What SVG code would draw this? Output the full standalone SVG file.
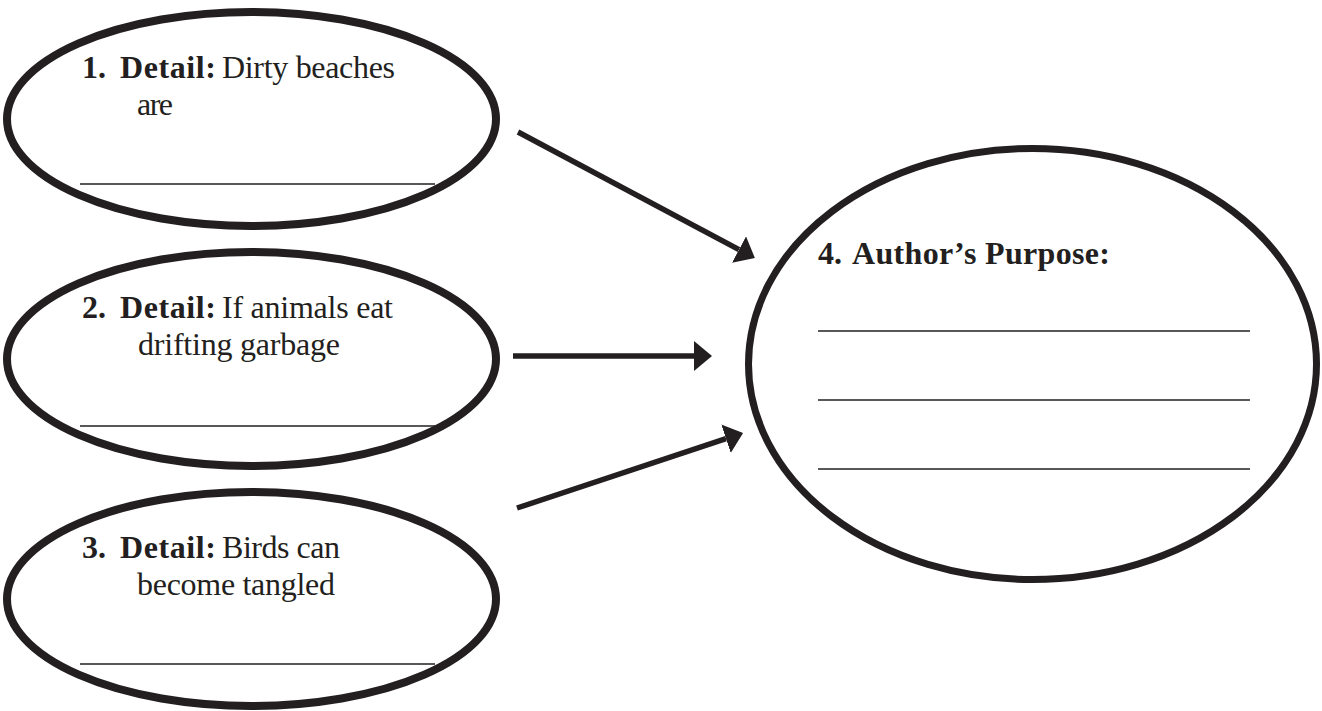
<svg xmlns="http://www.w3.org/2000/svg" width="1322" height="711" viewBox="0 0 1322 711">
<style>
.oval{fill:#fff;stroke:#231f20;stroke-width:8}
.big{fill:#fff;stroke:#231f20;stroke-width:7}
.rule{stroke:#231f20;stroke-width:1.5}
text{font-family:'Liberation Serif','Times New Roman',Times,serif;font-size:32px;fill:#231f20}
.b{font-weight:bold}
.conn line{stroke:#231f20;stroke-width:5.5}
</style>
<defs>
<marker id="ah" viewBox="0 0 18 30" markerWidth="18" markerHeight="30" markerUnits="userSpaceOnUse" refX="0" refY="15" orient="auto">
<path d="M0,0 L18,15 L0,30 Z" fill="#231f20"/>
</marker>
</defs>
<rect width="1322" height="711" fill="#fff"/>
<g id="node1">
<ellipse class="oval" cx="251.5" cy="119" rx="244.5" ry="107"/>
<line class="rule" x1="80" y1="184" x2="435" y2="184"/>
<text y="78"><tspan x="82" class="b">1.</tspan><tspan x="120" class="b" textLength="96">Detail:</tspan><tspan x="222" textLength="173">Dirty beaches</tspan></text>
<text x="137" y="115" textLength="36">are</text>
</g>
<g id="node2">
<ellipse class="oval" cx="251.5" cy="359" rx="244.5" ry="107"/>
<line class="rule" x1="80" y1="426" x2="435" y2="426"/>
<text y="318"><tspan x="82" class="b">2.</tspan><tspan x="120" class="b" textLength="96">Detail:</tspan><tspan x="222" textLength="171">If animals eat</tspan></text>
<text x="138" y="355" textLength="202">drifting garbage</text>
</g>
<g id="node3">
<ellipse class="oval" cx="251.5" cy="599" rx="244.5" ry="107"/>
<line class="rule" x1="80" y1="664" x2="435" y2="664"/>
<text y="558"><tspan x="82" class="b">3.</tspan><tspan x="120" class="b" textLength="96">Detail:</tspan><tspan x="222" textLength="118">Birds can</tspan></text>
<text x="137" y="595" textLength="198">become tangled</text>
</g>
<g id="node4">
<ellipse class="big" cx="1032.5" cy="364" rx="284" ry="215.5"/>
<line class="rule" x1="818" y1="331" x2="1250" y2="331"/>
<line class="rule" x1="818" y1="400" x2="1250" y2="400"/>
<line class="rule" x1="818" y1="469" x2="1250" y2="469"/>
<text class="b" y="264"><tspan x="818">4.</tspan><tspan x="852" textLength="258">Author’s Purpose:</tspan></text>
</g>
<g id="connectors" class="conn">
<line x1="518" y1="132" x2="739" y2="249.6" marker-end="url(#ah)"/>
<line x1="513" y1="356" x2="694" y2="356" marker-end="url(#ah)"/>
<line x1="517" y1="508" x2="726" y2="438.7" marker-end="url(#ah)"/>
</g>
</svg>
